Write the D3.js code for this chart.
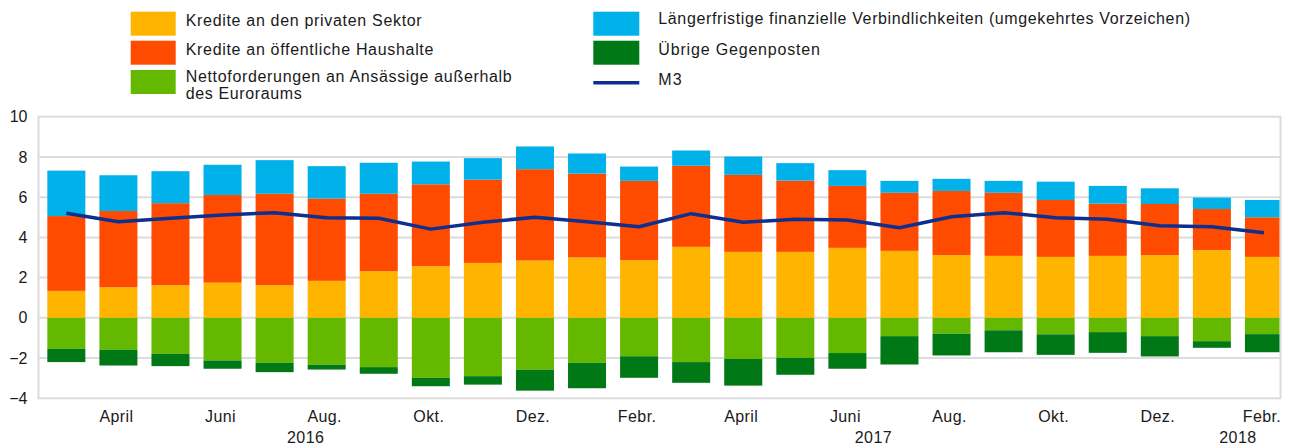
<!DOCTYPE html>
<html>
<head>
<meta charset="utf-8">
<script src="https://cdn.jsdelivr.net/npm/d3@7"></script>
<style>
  html, body { margin: 0; padding: 0; background: #fff; }
  svg { display: block; font-family: "Liberation Sans", Arial, sans-serif; }
</style>
</head>
<body>
<svg id="chart" width="1289" height="447"></svg>
<script>
// ---- data ----
const categories = ["2016-03","2016-04","2016-05","2016-06","2016-07","2016-08","2016-09","2016-10","2016-11","2016-12",
  "2017-01","2017-02","2017-03","2017-04","2017-05","2017-06","2017-07","2017-08","2017-09","2017-10","2017-11","2017-12",
  "2018-01","2018-02"];
const monthLabels = ["März","April","Mai","Juni","Juli","Aug.","Sept.","Okt.","Nov.","Dez.",
  "Jan.","Febr.","März","April","Mai","Juni","Juli","Aug.","Sept.","Okt.","Nov.","Dez.",
  "Jan.","Febr."];
const years = ["2016","2017","2018"];

const privateSector = [1.34,1.52,1.62,1.75,1.62,1.84,2.32,2.57,2.73,2.85,3.00,2.87,3.53,3.28,3.28,3.48,3.33,3.12,3.08,3.03,3.08,3.12,3.37,3.03];
const publicSector  = [3.72,3.79,4.08,4.36,4.55,4.09,3.85,4.07,4.14,4.54,4.17,3.94,4.03,3.83,3.54,3.08,2.89,3.19,3.14,2.83,2.60,2.54,2.04,1.97];
const external      = [-1.54,-1.59,-1.79,-2.12,-2.24,-2.33,-2.45,-2.98,-2.90,-2.58,-2.24,-1.91,-2.20,-2.04,-1.99,-1.75,-0.91,-0.79,-0.62,-0.82,-0.71,-0.91,-1.16,-0.81];
const longerTerm    = [2.26,1.78,1.59,1.50,1.67,1.61,1.54,1.13,1.07,1.13,1.00,0.71,0.76,0.91,0.87,0.78,0.59,0.60,0.59,0.91,0.88,0.78,0.57,0.86];
const otherItems    = [-0.66,-0.78,-0.61,-0.41,-0.46,-0.24,-0.33,-0.42,-0.42,-1.04,-1.26,-1.07,-1.03,-1.33,-0.84,-0.78,-1.41,-1.08,-1.09,-1.02,-1.03,-1.01,-0.33,-0.90];
const m3            = [5.20,4.78,4.95,5.11,5.23,4.98,4.95,4.41,4.75,5.00,4.78,4.53,5.18,4.75,4.90,4.86,4.48,5.03,5.23,4.98,4.90,4.58,4.53,4.23];

const yTicks = [-4,-2,0,2,4,6,8,10];

const seriesKeys = ["private","public","external","longer","other"];
const seriesNames = {
  private: "Kredite an den privaten Sektor",
  public: "Kredite an öffentliche Haushalte",
  external: ["Nettoforderungen an Ansässige außerhalb", "des Euroraums"],
  longer: "Längerfristige finanzielle Verbindlichkeiten (umgekehrtes Vorzeichen)",
  other: "Übrige Gegenposten",
  m3: "M3"
};
const colors = {
  private: "#FFB400", public: "#FF4B00", external: "#65B800",
  longer: "#00B1EA", other: "#007816", m3: "#0D2F8F"
};

// ---- table ----
const table = categories.map((c, i) => ({
  cat: c, private: privateSector[i], public: publicSector[i], external: external[i],
  longer: longerTerm[i], other: otherItems[i], m3: m3[i]
}));

const svg = d3.select("#chart");
const plot = { left: 38.5, right: 1280.5, top: 116.7, bottom: 398.3 };

const x = d3.scaleBand().domain(categories).range([40.3, 40.3 + 24 * 52.07])
  .paddingInner(0.27).paddingOuter(0.135);
const y = d3.scaleLinear().domain([-4, 10]).range([plot.bottom, plot.top]);

// clip
svg.append("defs").append("clipPath").attr("id", "clip")
  .append("rect").attr("x", plot.left).attr("y", plot.top)
  .attr("width", plot.right - plot.left - 1).attr("height", plot.bottom - plot.top);

// gridlines
svg.append("g").selectAll("line").data(yTicks.filter(t => t > -4 && t < 10)).join("line")
  .attr("x1", plot.left).attr("x2", plot.right)
  .attr("y1", d => y(d)).attr("y2", d => y(d))
  .attr("stroke", "#dcdcdc").attr("stroke-width", 2);

// frame
svg.append("rect").attr("x", plot.left).attr("y", plot.top)
  .attr("width", plot.right - plot.left).attr("height", plot.bottom - plot.top)
  .attr("fill", "none").attr("stroke", "#dcdcdc").attr("stroke-width", 2);

// stacked bars
const stack = d3.stack().keys(seriesKeys).offset(d3.stackOffsetDiverging);
const stacked = stack(table);
const barG = svg.append("g").attr("clip-path", "url(#clip)");
barG.selectAll("g").data(stacked).join("g")
  .attr("fill", d => colors[d.key])
  .selectAll("rect").data(d => d).join("rect")
  .attr("x", d => x(d.data.cat))
  .attr("width", x.bandwidth())
  .attr("y", d => y(Math.max(d[0], d[1])))
  .attr("height", d => Math.abs(y(d[0]) - y(d[1])));

// M3 line
const line = d3.line().x(d => x(d.cat) + x.bandwidth() / 2).y(d => y(d.m3));
svg.append("path").datum(table).attr("d", line)
  .attr("fill", "none").attr("stroke", colors.m3).attr("stroke-width", 3.5)
  .attr("stroke-linejoin", "round");

// y axis
const yAxis = d3.axisLeft(y).tickValues(yTicks).tickSize(0).tickPadding(0).tickFormat(d3.format("d"));
const yg = svg.append("g").attr("transform", "translate(27.5,0)").call(yAxis);
yg.select(".domain").remove();
yg.selectAll("text").attr("font-size", 16).attr("fill", "#1a1a1a")
  .attr("font-family", "Liberation Sans, Arial, sans-serif");

// x axis month labels
const xAxis = d3.axisBottom(x).tickValues(categories.filter((c, i) => i % 2 === 1))
  .tickSize(0).tickPadding(0).tickFormat(c => monthLabels[categories.indexOf(c)]);
const xg = svg.append("g").attr("transform", "translate(-2,408)").call(xAxis);
xg.select(".domain").remove();
xg.selectAll("text").attr("font-size", 16).attr("fill", "#1a1a1a").attr("dy", "0.9em")
  .attr("letter-spacing", "0.4px")
  .attr("font-family", "Liberation Sans, Arial, sans-serif");

// year labels centered on each year's bars
const yearG = svg.append("g");
years.forEach(yr => {
  const cats = categories.filter(c => c.startsWith(yr));
  const cx = (x(cats[0]) + x(cats[cats.length - 1]) + x.bandwidth()) / 2;
  yearG.append("text").attr("x", cx + (yr === "2016" ? 5 : 0)).attr("y", 443)
    .attr("text-anchor", "middle").attr("font-size", 16).attr("fill", "#1a1a1a")
    .attr("letter-spacing", "0.4px").text(yr);
});

// legend
const legend = svg.append("g").attr("font-size", 16).attr("fill", "#1a1a1a");
const leftItems = [
  { key: "private", sy: 11.7, tb: [26], tl: [236] },
  { key: "public", sy: 40.7, tb: [54.8], tl: [247.7] },
  { key: "external", sy: 70, tb: [81.7, 99.3], tl: [326, 116] }
];
leftItems.forEach(it => {
  legend.append("rect").attr("x", 130.7).attr("y", it.sy).attr("width", 45).attr("height", 24)
    .attr("fill", colors[it.key]);
  const names = Array.isArray(seriesNames[it.key]) ? seriesNames[it.key] : [seriesNames[it.key]];
  names.forEach((n, j) => {
    legend.append("text").attr("x", 185.7).attr("y", it.tb[j])
      .attr("textLength", it.tl[j]).attr("lengthAdjust", "spacing").text(n);
  });
});
const rightItems = [
  { key: "longer", sy: 11.7, tb: 23.8, tl: 531.7 },
  { key: "other", sy: 40.7, tb: 55, tl: 161.7 }
];
rightItems.forEach(it => {
  legend.append("rect").attr("x", 593.3).attr("y", it.sy).attr("width", 46).attr("height", 24)
    .attr("fill", colors[it.key]);
  legend.append("text").attr("x", 658.3).attr("y", it.tb)
    .attr("textLength", it.tl).attr("lengthAdjust", "spacing").text(seriesNames[it.key]);
});
legend.append("line").attr("x1", 593.3).attr("x2", 639.3).attr("y1", 82.7).attr("y2", 82.7)
  .attr("stroke", colors.m3).attr("stroke-width", 3.5);
legend.append("text").attr("x", 658.3).attr("y", 85).attr("letter-spacing", "1px").text(seriesNames.m3);
</script>
</body>
</html>
